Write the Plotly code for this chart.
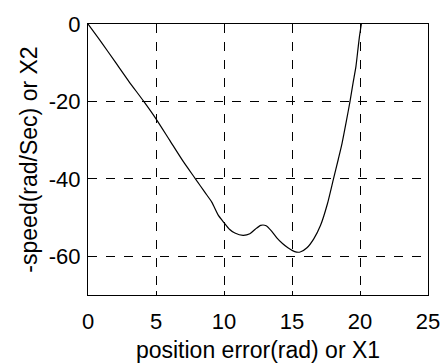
import plotly.graph_objects as go

x1_pos_error = [0, 1, 2, 3, 4.1, 5, 6, 7, 7.9, 8.6, 9.1, 9.6, 10, 10.4, 10.8, 11.4, 11.9,
                12.3, 12.7, 13.1, 13.5, 13.9, 14.3, 14.7, 15.2, 15.6, 16.1, 16.6, 17.1,
                17.6, 18.05, 18.4, 18.65, 19.0, 19.25, 19.5, 19.7, 19.85, 19.95, 20.1]
x2_neg_speed = [0, -4.8, -9.8, -14.8, -20, -24.5, -30, -35.5, -40, -43.5, -46, -49.5, -51.3,
                -53, -54, -54.6, -54.2, -53, -52, -52.1, -53.5, -55.3, -56.7, -57.8, -58.8,
                -58.9, -57.8, -55.5, -52, -46.5, -40, -35, -31.3, -25, -20.3, -15, -11,
                -6.5, -3.5, 0]

x_ticks = [0, 5, 10, 15, 20, 25]
y_ticks = [0, -20, -40, -60]

FONT = "Liberation Sans, Arial, sans-serif"

fig = go.Figure()
fig.add_trace(go.Scatter(x=x1_pos_error, y=x2_neg_speed, mode="lines",
                         line=dict(color="black", width=1.2, shape="spline", smoothing=0.6),
                         showlegend=False, hoverinfo="skip"))

axis_common = dict(
    showline=True, linecolor="black", linewidth=1, mirror=True,
    showgrid=True, gridcolor="black", gridwidth=1, griddash="dash",
    zeroline=False, ticks="inside", ticklen=4, tickcolor="black",
    tickfont=dict(family=FONT, size=22, color="black"),
    ticklabeloverflow="allow", automargin=False,
)

fig.update_xaxes(range=[0, 25], tickvals=x_ticks, ticktext=[str(v) for v in x_ticks],
                 title=dict(text="position error(rad) or X1", font=dict(family=FONT, size=23, color="black"),
                            standoff=8),
                 ticklabelstandoff=7, **axis_common)
fig.update_yaxes(range=[-70, 0], tickvals=y_ticks, ticktext=[str(v) for v in y_ticks],
                 title=dict(text="-speed(rad/Sec) or X2", font=dict(family=FONT, size=23, color="black"),
                            standoff=4),
                 ticklabelstandoff=2, **axis_common)

fig.update_layout(width=441, height=363, margin=dict(l=88, r=13, t=24, b=68),
                  paper_bgcolor="white", plot_bgcolor="white",
                  font=dict(family=FONT, color="black"))

fig.write_html("out.html")
